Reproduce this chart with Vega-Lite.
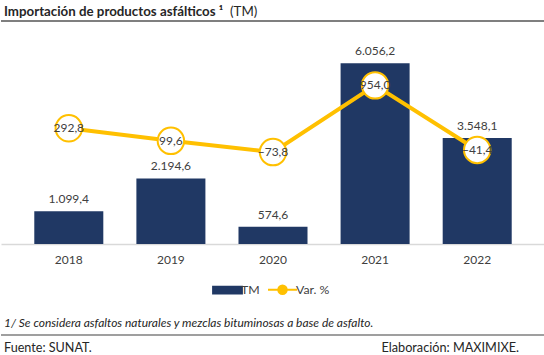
{
  "$schema": "https://vega.github.io/schema/vega-lite/v6.json",
  "padding": 0,
  "spacing": 0,
  "background": "white",
  "config": {
    "view": {"stroke": null},
    "font": "Lato",
    "locale": {"number": {"decimal": ",", "thousands": ".", "grouping": [3], "currency": ["", ""]}}
  },
  "resolve": {"scale": {"color": "independent"}, "legend": {"color": "independent"}},
  "vconcat": [
    {
      "width": 544,
      "height": 35,
      "data": {"values": [
        {"row": "title", "part": "bold", "label": "Importación de productos asfálticos ¹"},
        {"row": "title", "part": "unit", "label": "(TM)"},
        {"row": "line", "part": "bold", "label": ""}
      ]},
      "encoding": {
        "y": {"field": "row", "type": "nominal", "scale": {"type": "point", "padding": 0, "domain": ["title", "line"], "range": [11.5, 21]}, "axis": null}
      },
      "layer": [
        {
          "transform": [{"filter": "datum.part === 'bold' && datum.row === 'title'"}],
          "mark": {"type": "text", "align": "left", "baseline": "middle", "fontWeight": "bold", "fontSize": 13.3, "color": "#262626"},
          "encoding": {
            "x": {"field": "part", "type": "nominal", "scale": {"type": "point", "padding": 0, "domain": ["bold", "unit"], "range": [3, 229]}, "axis": null},
            "text": {"field": "label"}
          }
        },
        {
          "transform": [{"filter": "datum.part === 'unit'"}],
          "mark": {"type": "text", "align": "left", "baseline": "middle", "fontSize": 13.3, "color": "#262626"},
          "encoding": {
            "x": {"field": "part", "type": "nominal", "scale": {"type": "point", "padding": 0, "domain": ["bold", "unit"], "range": [3, 229]}, "axis": null},
            "text": {"field": "label"}
          }
        },
        {
          "transform": [{"filter": "datum.row === 'line'"}],
          "mark": {"type": "rule", "color": "#7F7F7F", "strokeWidth": 2},
          "encoding": {
            "x": {"datum": 0, "type": "quantitative", "scale": {"domain": [0, 1]}, "axis": null},
            "x2": {"datum": 1}
          }
        }
      ],
      "resolve": {"scale": {"x": "independent"}}
    },
    {
      "width": 544,
      "height": 209,
      "data": {"values": [
        {"year": "2018", "tm": 1099.4, "var": 292.8},
        {"year": "2019", "tm": 2194.6, "var": 99.6},
        {"year": "2020", "tm": 574.6, "var": -73.8},
        {"year": "2021", "tm": 6056.2, "var": 954.0},
        {"year": "2022", "tm": 3548.1, "var": -41.4}
      ]},
      "encoding": {
        "x": {
          "field": "year", "type": "ordinal",
          "scale": {"paddingInner": 0.324, "paddingOuter": 0.326},
          "axis": {"title": null, "labelAngle": 0, "ticks": false, "labelFontSize": 12, "labelColor": "#404040", "labelPadding": 10, "domainColor": "#D9D9D9", "domainWidth": 1.5}
        }
      },
      "layer": [
        {
          "mark": {"type": "bar"},
          "encoding": {
            "y": {"field": "tm", "type": "quantitative", "scale": {"domain": [0, 7000], "nice": false, "zero": true}, "axis": null},
            "color": {
              "datum": "TM",
              "scale": {"domain": ["TM", "Var. %"], "range": ["#203864", "#FFC000"]},
              "legend": {
                "title": null, "orient": "none", "direction": "horizontal", "legendX": 211, "legendY": 239,
                "labelFontSize": 12.3, "labelColor": "#404040", "labelOffset": -2, "columnPadding": 4,
                "symbolSize": 841, "symbolStrokeWidth": 1.8,
                "encode": {"symbols": {"update": {
                  "shape": {"signal": "datum.value === 'TM' ? 'M-1,-0.24H1V0.24H-1Z' : 'M-1,0H-0.3M0.3,0H1M0.3,0A0.3,0.3 0 1,1 -0.3,0A0.3,0.3 0 1,1 0.3,0'"},
                  "fill": {"signal": "datum.value === 'TM' ? '#203864' : '#FFFFFF'"},
                  "stroke": {"signal": "datum.value === 'TM' ? 'transparent' : '#FFC000'"},
                  "strokeWidth": {"value": 1.8},
                  "opacity": {"value": 1},
                  "fillOpacity": {"value": 1}
                }}}
              }
            }
          }
        },
        {
          "mark": {"type": "text", "baseline": "alphabetic", "dy": -8, "fontSize": 12, "color": "#404040"},
          "encoding": {
            "y": {"field": "tm", "type": "quantitative", "scale": {"domain": [0, 7000], "nice": false, "zero": true}, "axis": null},
            "text": {"field": "tm", "type": "quantitative", "format": ",.1f"}
          }
        },
        {
          "mark": {"type": "line", "strokeWidth": 4},
          "encoding": {
            "y": {"field": "var", "type": "quantitative", "scale": {"domain": [-1490, 1730], "nice": false, "zero": false}, "axis": null},
            "color": {"datum": "Var. %"}
          }
        },
        {
          "mark": {"type": "point", "filled": true, "fill": "#FFFFFF", "stroke": "#FFC000", "strokeWidth": 2, "size": 700, "opacity": 1},
          "encoding": {
            "y": {"field": "var", "type": "quantitative", "scale": {"domain": [-1490, 1730], "nice": false, "zero": false}, "axis": null}
          }
        },
        {
          "mark": {"type": "text", "baseline": "middle", "fontSize": 12, "color": "#404040"},
          "encoding": {
            "y": {"field": "var", "type": "quantitative", "scale": {"domain": [-1490, 1730], "nice": false, "zero": false}, "axis": null},
            "text": {"field": "var", "type": "quantitative", "format": ",.1f"}
          }
        }
      ],
      "resolve": {"scale": {"y": "independent"}}
    },
    {
      "width": 544,
      "height": 55,
      "data": {"values": [
        {"row": "note", "side": "left", "label": "1/ Se considera asfaltos naturales y mezclas bituminosas a base de asfalto."},
        {"row": "line", "side": "left", "label": ""},
        {"row": "source", "side": "left", "label": "Fuente: SUNAT."},
        {"row": "source", "side": "right", "label": "Elaboración: MAXIMIXE."}
      ]},
      "encoding": {
        "y": {"field": "row", "type": "nominal", "scale": {"type": "point", "padding": 0, "domain": ["note", "line", "source"], "range": [24.5, 49.5]}, "axis": null}
      },
      "layer": [
        {
          "transform": [{"filter": "datum.row === 'note'"}],
          "mark": {"type": "text", "align": "left", "baseline": "middle", "fontStyle": "italic", "fontSize": 12, "color": "#262626"},
          "encoding": {
            "x": {"field": "side", "type": "nominal", "scale": {"type": "point", "padding": 0, "domain": ["left", "right"], "range": [3, 518]}, "axis": null},
            "text": {"field": "label"}
          }
        },
        {
          "transform": [{"filter": "datum.row === 'line'"}],
          "mark": {"type": "rule", "color": "#7F7F7F", "strokeWidth": 1.5},
          "encoding": {
            "x": {"datum": 0, "type": "quantitative", "scale": {"domain": [0, 1]}, "axis": null},
            "x2": {"datum": 1}
          }
        },
        {
          "transform": [{"filter": "datum.row === 'source' && datum.side === 'left'"}],
          "mark": {"type": "text", "align": "left", "baseline": "middle", "fontSize": 12.6, "color": "#262626"},
          "encoding": {
            "x": {"field": "side", "type": "nominal", "scale": {"type": "point", "padding": 0, "domain": ["left", "right"], "range": [3, 518]}, "axis": null},
            "text": {"field": "label"}
          }
        },
        {
          "transform": [{"filter": "datum.row === 'source' && datum.side === 'right'"}],
          "mark": {"type": "text", "align": "right", "baseline": "middle", "fontSize": 12.7, "color": "#262626"},
          "encoding": {
            "x": {"field": "side", "type": "nominal", "scale": {"type": "point", "padding": 0, "domain": ["left", "right"], "range": [3, 518]}, "axis": null},
            "text": {"field": "label"}
          }
        }
      ],
      "resolve": {"scale": {"x": "independent"}}
    }
  ]
}
